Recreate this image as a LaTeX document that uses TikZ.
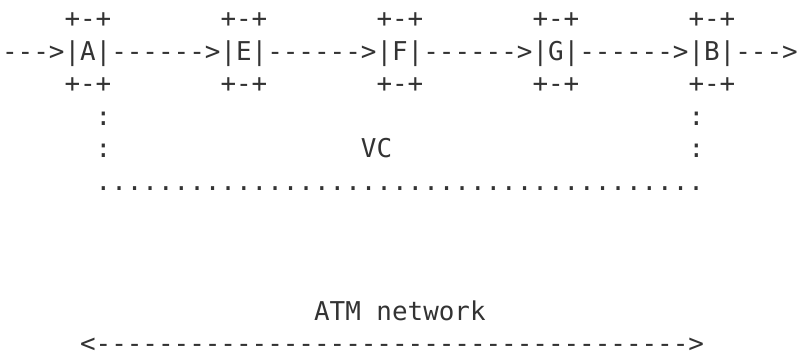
\documentclass[tikz,border=0pt]{standalone}
\usepackage{fontspec}
\setmonofont{DejaVu Sans Mono}
\definecolor{ink}{HTML}{333333}
\tikzset{asc/.style={anchor=base west, inner sep=0pt, outer sep=0pt, text=ink,
  font=\fontsize{25.91pt}{32.5pt}\selectfont\ttfamily}}
\begin{document}
\begin{tikzpicture}[x=1pt,y=1pt]
\useasboundingbox (0,0) rectangle (798,-351);
% column c -> x = 2.1 + 15.6 c ; row r -> baseline y = -(27.5 + 32.5 r)
% row 0 and row 2: box tops and bottoms
\foreach \n/\c in {A/4,E/14,F/24,G/34,B/44}{
  \node[asc] (top\n) at ({2.1+15.6*\c},-27.5) {+-+};
  \node[asc] (bot\n) at ({2.1+15.6*\c},{-27.5-32.5*2}) {+-+};
}
% row 1: boxes and arrows
\node[asc] (in)  at ({2.1+15.6*0},-60) {--->};
\node[asc] (A)   at ({2.1+15.6*4},-60) {|A|};
\node[asc] (ae)  at ({2.1+15.6*7},-60) {------>};
\node[asc] (E)   at ({2.1+15.6*14},-60) {|E|};
\node[asc] (ef)  at ({2.1+15.6*17},-60) {------>};
\node[asc] (F)   at ({2.1+15.6*24},-60) {|F|};
\node[asc] (fg)  at ({2.1+15.6*27},-60) {------>};
\node[asc] (G)   at ({2.1+15.6*34},-60) {|G|};
\node[asc] (gb)  at ({2.1+15.6*37},-60) {------>};
\node[asc] (B)   at ({2.1+15.6*44},-60) {|B|};
\node[asc] (out) at ({2.1+15.6*47},-60) {--->};
% rows 3-5: VC
\node[asc] (vcl1) at ({2.1+15.6*6},{-27.5-32.5*3}) {:};
\node[asc] (vcr1) at ({2.1+15.6*44},{-27.5-32.5*3}) {:};
\node[asc] (vcl2) at ({2.1+15.6*6},{-27.5-32.5*4}) {:};
\node[asc] (vc)   at ({2.1+15.6*23},{-27.5-32.5*4}) {VC};
\node[asc] (vcr2) at ({2.1+15.6*44},{-27.5-32.5*4}) {:};
\node[asc] (vcb)  at ({2.1+15.6*6},{-27.5-32.5*5}) {.......................................};
% rows 9-10: ATM network
\node[asc] (atm)  at ({2.1+15.6*20},{-27.5-32.5*9}) {ATM network};
\node[asc] (span) at ({2.1+15.6*5},{-27.5-32.5*10}) {<-------------------------------------->};
\end{tikzpicture}
\end{document}
